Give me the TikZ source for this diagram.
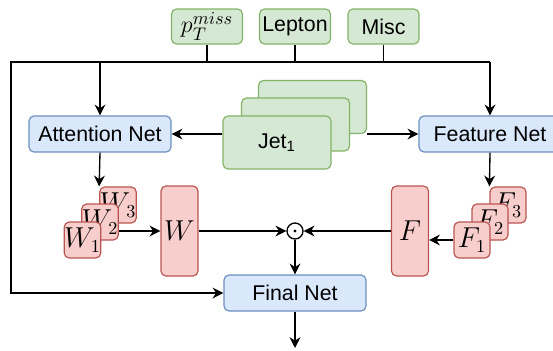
\documentclass[tikz,border=0pt]{standalone}
\usepackage{amsmath,amssymb}
\usepackage[no-math]{fontspec}
\newfontfamily\lib{Liberation Sans}
\usetikzlibrary{arrows.meta}
\definecolor{netline}{HTML}{6C8EBF}
\definecolor{netfill}{HTML}{DAE8FC}
\definecolor{inline}{HTML}{82B366}
\definecolor{infill}{HTML}{D5E8D4}
\definecolor{wline}{HTML}{B85450}
\definecolor{wfill}{HTML}{F8CECC}

\begin{document}
\begin{tikzpicture}[x=0.6pt,y=-0.6pt,line width=0.8pt,
	>={Stealth[length=6.5pt,width=6.5pt]},
	box/.style={rounded corners=3pt,line width=0.7pt,inner sep=0pt,font=\lib\fontsize{12.8}{15}\selectfont},
	net/.style={box,draw=netline,fill=netfill,minimum width=85.2pt,minimum height=21.6pt},
	inbox/.style={box,draw=inline,fill=infill,minimum width=42.6pt,minimum height=21pt},
	jetbox/.style={box,draw=inline,fill=infill,minimum width=64.8pt,minimum height=31.8pt},
	wsmall/.style={box,draw=wline,fill=wfill,minimum size=21.6pt,font=\fontsize{16}{18}\selectfont},
	wbig/.style={box,draw=wline,fill=wfill,minimum width=22.2pt,minimum height=54pt,font=\fontsize{16}{18}\selectfont},
	]
	\useasboundingbox (0,0) rectangle (553,350);
	\path
	(11,62) coordinate (busL)
	(490,62) coordinate (busR)
	(295,348) coordinate (out)
	;
	% inputs
	\node[inbox,font=\fontsize{15.5}{17}\selectfont] (ptmiss) at (207,26.5) {$p_T^{miss}$};
	\node[inbox] (lepton) at (295,26.5) {Lepton};
	\node[inbox] (misc) at (383.5,26.5) {Misc};
	\node[jetbox] (jet3) at (312.5,107) {};
	\node[jetbox] (jet2) at (295.5,124.5) {};
	\node[jetbox] (jet1) at (277,142.5) {Jet\textsubscript{1}};
	% nets
	\node[net] (attn) at (100,134) {Attention Net};
	\node[net] (featnet) at (490,134) {Feature Net};
	\node[net] (final) at (295,293) {Final Net};
	% weights and features
	\foreach \i/\x/\y in {3/118/205,2/100/222,1/82.5/240} \node[wsmall] (w\i) at (\x,\y) {$W_\i$};
	\foreach \i/\x/\y in {3/508/205,2/490/222,1/472/240} \node[wsmall] (f\i) at (\x,\y) {$F_\i$};
	\node[wbig] (wbig) at (179.5,231) {$W$};
	\node[wbig] (fbig) at (410,231) {$F$};
	\node[circle,draw,fill=white,minimum size=9.6pt,inner sep=0pt] (prod) at (295,231) {};
	\fill (prod) circle (1pt);

	\draw (ptmiss.south) -- (ptmiss.south |- busL);
	\draw (lepton.south) -- (lepton.south |- busL);
	\draw (misc.south) -- (misc.south |- busL);
	\draw[->] (busR) -- (busL) |- (final.west);
	\draw[->] (busR) -- (featnet.north);
	\draw[->] (attn.north |- busL) -- (attn.north);
	\draw[->] (jet1.west |- attn.east) -- (attn.east);
	\draw[->] (jet3.east |- featnet.west) -- (featnet.west);
	\draw[->] (attn.south) -- (w3.north west);
	\draw[->] (featnet.south) -- (f3.north west);
	\draw[->] (w2.east |- wbig.west) -- (wbig.west);
	\draw[->] (f1.west) -- (fbig.east |- f1.west);
	\draw[->] (wbig.east) -- (prod.west);
	\draw[->] (fbig.west) -- (prod.east);
	\draw[->] (prod.south) -- (final.north);
	\draw[->] (final.south) -- (out);
\end{tikzpicture}
\end{document}
